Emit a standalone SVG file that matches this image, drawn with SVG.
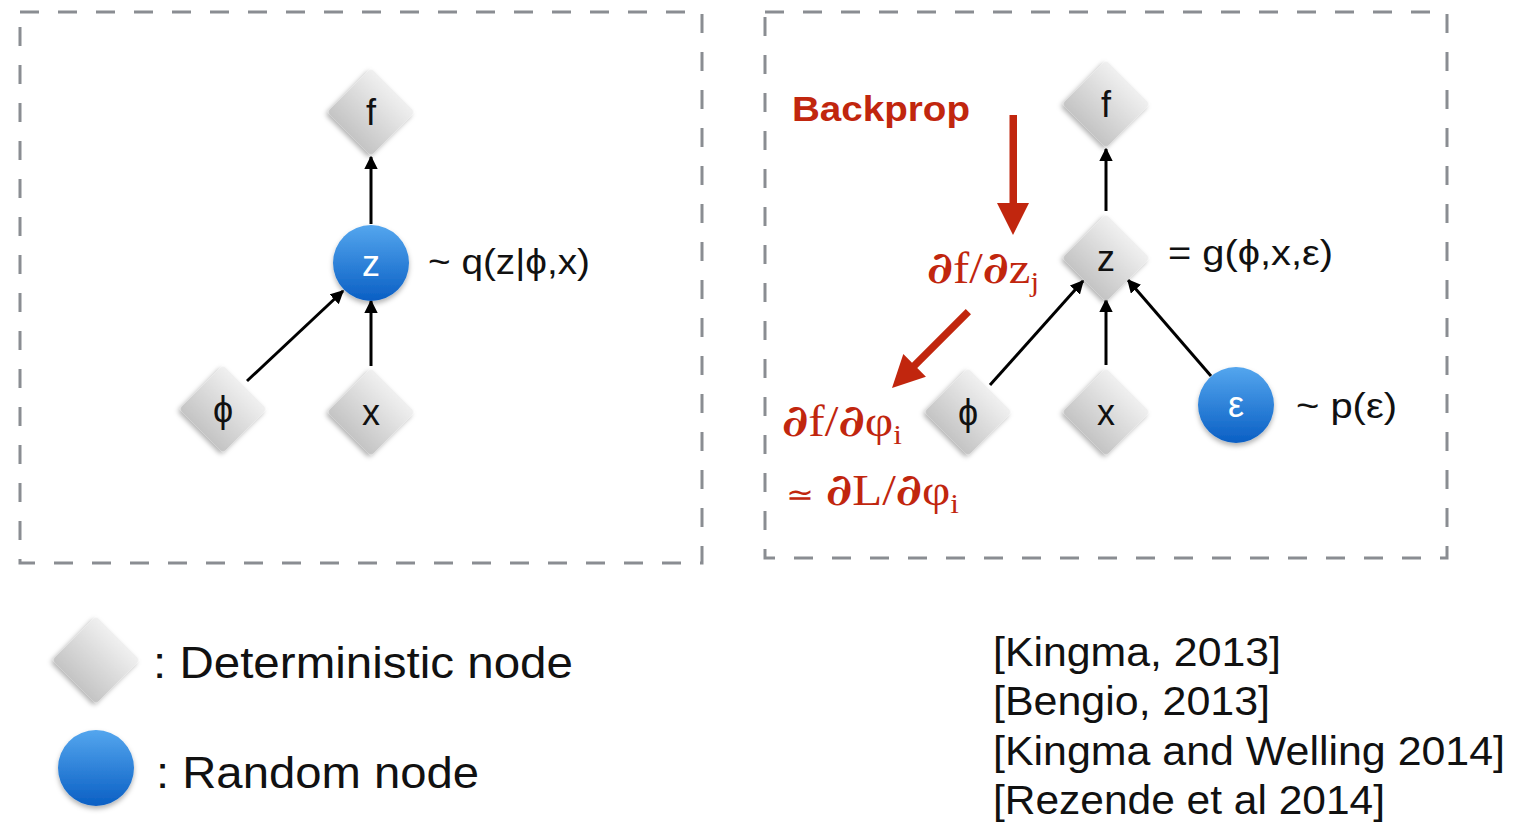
<svg xmlns="http://www.w3.org/2000/svg" width="1521" height="834" viewBox="0 0 1521 834">
<defs>
  <linearGradient id="gDia" x1="0" y1="0" x2="0" y2="1">
    <stop offset="0" stop-color="#f0f0f0"/>
    <stop offset="1" stop-color="#c4c4c4"/>
  </linearGradient>
  <linearGradient id="gCir" x1="0" y1="0" x2="0" y2="1">
    <stop offset="0" stop-color="#54a6ee"/>
    <stop offset="1" stop-color="#0a5fc4"/>
  </linearGradient>
  <filter id="sh" x="-30%" y="-30%" width="160%" height="170%">
    <feDropShadow dx="0" dy="3" stdDeviation="2.5" flood-color="#000" flood-opacity="0.3"/>
  </filter>
  <marker id="ah" viewBox="0 0 10 10" refX="9" refY="5" markerWidth="4.5" markerHeight="4.5" orient="auto" markerUnits="strokeWidth">
    <path d="M0,0 L10,5 L0,10 z" fill="#000"/>
  </marker>
  <symbol id="dia" viewBox="-46 -46 92 92" overflow="visible">
    <rect x="-31" y="-31" width="62" height="62" rx="4" transform="rotate(45)" fill="url(#gDia)" filter="url(#sh)"/>
  </symbol>
</defs>
<style>
  .box{fill:none;stroke:#8a8d92;stroke-width:3;stroke-dasharray:19 19}
  .lbl{font-family:"Liberation Sans",Arial,sans-serif;fill:#111}
  .nl{font-family:"Liberation Sans",Arial,sans-serif;font-size:36px;text-anchor:middle;fill:#111}
  .nw{font-family:"Liberation Sans",Arial,sans-serif;font-size:36px;text-anchor:middle;fill:#fff}
  .edge{stroke:#000;stroke-width:3;fill:none;marker-end:url(#ah)}
  .red{fill:#c1260e}
  .rm{font-family:"Liberation Serif","Times New Roman",serif;fill:#c1260e}
  .pd{font-family:"DejaVu Serif",serif;font-weight:bold;font-style:italic}
  .circ{fill:url(#gCir);filter:url(#sh)}
</style>
<rect width="1521" height="834" fill="#fff"/>

<g id="boxes">
  <rect class="box" x="20" y="12" width="682" height="551"/>
  <rect class="box" x="765" y="12" width="682" height="546"/>
</g>

<g id="connectors">
  <line class="edge" x1="371" y1="224" x2="371" y2="157"/>
  <line class="edge" x1="371" y1="366" x2="371" y2="301"/>
  <line class="edge" x1="247" y1="381" x2="343" y2="291"/>
  <line class="edge" x1="1106" y1="211" x2="1106" y2="149"/>
  <line class="edge" x1="1106" y1="365" x2="1106" y2="300"/>
  <line class="edge" x1="990" y1="385" x2="1083" y2="281"/>
  <line class="edge" x1="1211" y1="376" x2="1128" y2="280"/>
</g>

<g id="left-f"><use href="#dia" x="325" y="66" width="92" height="92"/><text class="nl" x="371" y="125">f</text></g>
<g id="left-z"><circle class="circ" cx="371" cy="263" r="38"/><text class="nw" x="371" y="276">z</text></g>
<g id="left-phi"><use href="#dia" x="177" y="363" width="92" height="92"/><text class="nl" x="223" y="422">ϕ</text></g>
<g id="left-x"><use href="#dia" x="325" y="366" width="92" height="92"/><text class="nl" x="371" y="425">x</text></g>
<g id="left-q"><text class="lbl" x="428" y="274" font-size="35" textLength="162" lengthAdjust="spacingAndGlyphs">~ q(z|ϕ,x)</text></g>

<g id="right-f"><use href="#dia" x="1060" y="58" width="92" height="92"/><text class="nl" x="1106" y="117">f</text></g>
<g id="right-z"><use href="#dia" x="1060" y="212" width="92" height="92"/><text class="nl" x="1106" y="271">z</text></g>
<g id="right-phi"><use href="#dia" x="922" y="366" width="92" height="92"/><text class="nl" x="968" y="425">ϕ</text></g>
<g id="right-x"><use href="#dia" x="1060" y="366" width="92" height="92"/><text class="nl" x="1106" y="425">x</text></g>
<g id="right-eps"><circle class="circ" cx="1236" cy="405" r="38"/><text class="nw" x="1236" y="417">ε</text></g>
<g id="right-g"><text class="lbl" x="1168" y="265" font-size="35" textLength="165" lengthAdjust="spacingAndGlyphs">= g(ϕ,x,ε)</text></g>
<g id="right-p"><text class="lbl" x="1296" y="418" font-size="35" textLength="101" lengthAdjust="spacingAndGlyphs">~ p(ε)</text></g>

<g id="backprop">
  <text x="792" y="121" font-family="Liberation Sans,Arial,sans-serif" font-weight="bold" font-size="35" class="red" textLength="178" lengthAdjust="spacingAndGlyphs">Backprop</text>
  <polygon class="red" points="1009.5,115 1017,115 1017,203 1029,203 1013,235 997,203 1009.5,203"/>
  <polygon class="red" transform="translate(892 388) rotate(45)" points="-3.7,-108 3.7,-108 3.7,-32 16,-32 0,0 -16,-32 -3.7,-32"/>
  <text class="rm" x="927" y="283" font-size="44" textLength="112" lengthAdjust="spacingAndGlyphs"><tspan class="pd">∂</tspan>f/<tspan class="pd">∂</tspan>z<tspan font-size="28" dy="8">j</tspan></text>
  <text class="rm" x="782" y="436" font-size="44" textLength="120" lengthAdjust="spacingAndGlyphs"><tspan class="pd">∂</tspan>f/<tspan class="pd">∂</tspan>φ<tspan font-size="28" dy="8">i</tspan></text>
  <text class="rm" x="786" y="505" font-size="44" textLength="173" lengthAdjust="spacingAndGlyphs"><tspan font-size="30">≃</tspan> <tspan class="pd">∂</tspan>L/<tspan class="pd">∂</tspan>φ<tspan font-size="28" dy="8">i</tspan></text>
</g>

<g id="legend-det"><use href="#dia" x="50" y="614" width="92" height="92"/><text class="lbl" x="153" y="678" font-size="45" textLength="420" lengthAdjust="spacingAndGlyphs">: Deterministic node</text></g>
<g id="legend-rand"><circle class="circ" cx="96" cy="768" r="38"/><text class="lbl" x="156" y="788" font-size="45" textLength="323" lengthAdjust="spacingAndGlyphs">: Random node</text></g>

<g id="refs" class="lbl" font-size="41">
  <text x="993" y="666" textLength="288" lengthAdjust="spacingAndGlyphs">[Kingma, 2013]</text>
  <text x="993" y="715" textLength="277" lengthAdjust="spacingAndGlyphs">[Bengio, 2013]</text>
  <text x="993" y="765" textLength="512" lengthAdjust="spacingAndGlyphs">[Kingma and Welling 2014]</text>
  <text x="993" y="814" textLength="392" lengthAdjust="spacingAndGlyphs">[Rezende et al 2014]</text>
</g>
</svg>
